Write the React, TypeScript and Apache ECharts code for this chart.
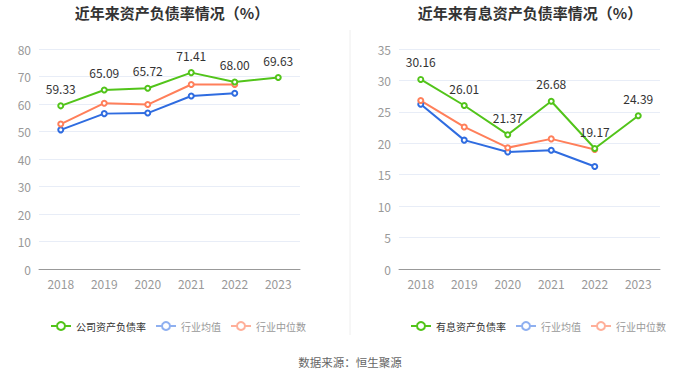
import React, { useEffect, useRef } from "react";
import * as echarts from "echarts";

const years = ["2018", "2019", "2020", "2021", "2022", "2023"];
const companyDebt = [59.33, 65.09, 65.72, 71.41, 68.0, 69.63];
const industryMeanDebt = [50.6, 56.5, 56.7, 62.9, 63.9];
const industryMedianDebt = [52.7, 60.3, 59.8, 67.1, 67.1];
const interestDebt = [30.16, 26.01, 21.37, 26.68, 19.17, 24.39];
const industryMeanInterest = [26.2, 20.5, 18.6, 18.9, 16.3];
const industryMedianInterest = [26.8, 22.6, 19.3, 20.7, 19.0];

const GREEN = "#52c41a";
const BLUE = "#2f6ce0";
const ORANGE = "#ff7f5a";
const LIGHT_BLUE = "#8fb0f0";
const LIGHT_ORANGE = "#ffb09a";
const FONT = "'Noto Sans CJK SC', 'Noto Sans', sans-serif";

export default function App() {
  const ref = useRef<HTMLDivElement>(null);
  useEffect(() => {
    if (!ref.current) return;
    const chart = echarts.init(ref.current, undefined, { renderer: "svg" });
    const xAxisBase = (gridIndex: number) => ({
      type: "category",
      gridIndex,
      data: years,
      axisLine: { lineStyle: { color: "#999" } },
      axisTick: { alignWithLabel: true, lineStyle: { color: "#999" } },
      axisLabel: { color: "#999", fontSize: 12, margin: 8, fontFamily: FONT },
    });
    const yAxisBase = (gridIndex: number, max: number, interval: number) => ({
      type: "value",
      gridIndex,
      min: 0,
      max,
      interval,
      axisLine: { show: false },
      axisTick: { show: false },
      axisLabel: { color: "#999", fontSize: 12, fontFamily: FONT },
      splitLine: { lineStyle: { color: "#e8edf7" } },
    });
    const lineSeries = (name: string, data: number[], color: string, idx: number, label: boolean) => ({
      type: "line",
      name,
      data,
      xAxisIndex: idx,
      yAxisIndex: idx,
      symbol: "emptyCircle",
      symbolSize: 5,
      lineStyle: { width: 2, color },
      itemStyle: { color },
      label: label
        ? { show: true, position: "top", distance: 8, color: "#333", fontSize: 12, fontFamily: FONT, formatter: (p: any) => p.value.toFixed(2) }
        : { show: false },
      z: label ? 5 : 3,
    });
    const legendItem = (name: string, active: boolean, color: string) => ({
      name,
      textStyle: { color: active ? "#333" : "#999" },
      itemStyle: { color, borderColor: color, borderWidth: 2 },
      lineStyle: { color, width: 2 },
    });
    const legendBase = (left: number, first: string) => ({
      left,
      top: 316,
      itemWidth: 20,
      itemHeight: 10,
      itemGap: 9,
      width: 300,
      textStyle: { fontSize: 10, fontFamily: FONT },
      data: [legendItem(first, true, GREEN), legendItem("行业均值", false, LIGHT_BLUE), legendItem("行业中位数", false, LIGHT_ORANGE)],
    });
    chart.setOption({
      animation: false,
      textStyle: { fontFamily: FONT },
      title: [
        { text: "近年来资产负债率情况（%）", left: 167, textAlign: "center", top: 0, textStyle: { fontSize: 15, fontWeight: "bold", color: "#333", fontFamily: FONT } },
        { text: "近年来有息资产负债率情况（%）", left: 525, textAlign: "center", top: 0, textStyle: { fontSize: 15, fontWeight: "bold", color: "#333", fontFamily: FONT } },
      ],
      grid: [
        { left: 39, right: 400, top: 49, bottom: 109 },
        { left: 399, right: 40, top: 49, bottom: 109 },
      ],
      xAxis: [xAxisBase(0), xAxisBase(1)],
      yAxis: [yAxisBase(0, 80, 10), yAxisBase(1, 35, 5)],
      legend: [legendBase(45, "公司资产负债率"), legendBase(405, "有息资产负债率")],
      graphic: [
        { type: "line", shape: { x1: 350, y1: 30, x2: 350, y2: 335 }, style: { stroke: "#eee", lineWidth: 1 } },
        { type: "text", x: 350, y: 356, style: { text: "数据来源：恒生聚源", fill: "#666", fontSize: 11.5, fontFamily: FONT, textAlign: "center" } },
      ],
      series: [
        lineSeries("公司资产负债率", companyDebt, GREEN, 0, true),
        lineSeries("行业均值", industryMeanDebt, BLUE, 0, false),
        lineSeries("行业中位数", industryMedianDebt, ORANGE, 0, false),
        lineSeries("有息资产负债率", interestDebt, GREEN, 1, true),
        lineSeries("行业均值", industryMeanInterest, BLUE, 1, false),
        lineSeries("行业中位数", industryMedianInterest, ORANGE, 1, false),
      ],
    });
    return () => chart.dispose();
  }, []);
  return <div ref={ref} style={{ width: 700, height: 378, position: "absolute", left: 0, top: 0 }} />;
}
